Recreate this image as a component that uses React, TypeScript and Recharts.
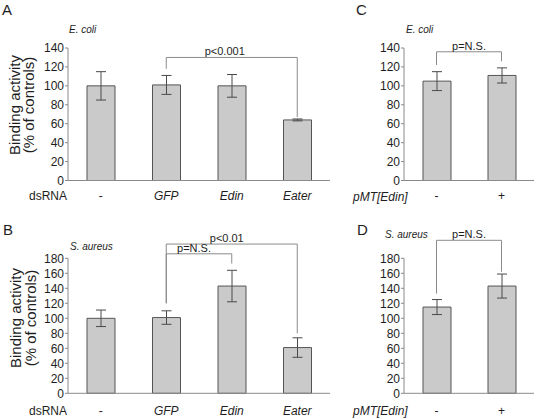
import React from 'react';
import { BarChart, Bar, XAxis, YAxis, ErrorBar, ReferenceLine } from 'recharts';

// ---- data ----
const dsrnaCategories = ['-', 'GFP', 'Edin', 'Eater'];
const pmtCategories = ['-', '+'];
const italicCategories = ['GFP', 'Edin', 'Eater'];

const ecoliDsrnaValues = [100, 101, 100, 64];
const ecoliDsrnaErrors = [15, 10, 12, 1];
const saureusDsrnaValues = [100, 101, 143, 61];
const saureusDsrnaErrors = [11, 9, 21, 13];
const ecoliPmtValues = [105, 111];
const ecoliPmtErrors = [10, 8];
const saureusPmtValues = [115, 143];
const saureusPmtErrors = [10, 16];

const ecoliTicks = [0, 20, 40, 60, 80, 100, 120, 140];
const saureusTicks = [0, 20, 40, 60, 80, 100, 120, 140, 160, 180];

// significance brackets: [from, to, level, fromEnd, toEnd, label]
const bracketsA = [{ from: 'GFP', to: 'Eater', y: 130, fromEnd: 118, toEnd: 67, label: 'p<0.001' }];
const bracketsB = [
  { from: 'GFP', to: 'Eater', y: 199, fromEnd: 120, toEnd: 80, label: 'p<0.01' },
  { from: 'GFP', to: 'Edin', y: 186, fromEnd: 120, toEnd: 173, label: 'p=N.S.' },
];
const bracketsC = [{ from: '-', to: '+', y: 136, fromEnd: 122, toEnd: 126, label: 'p=N.S.' }];
const bracketsD = [{ from: '-', to: '+', y: 204, fromEnd: 133, toEnd: 162, label: 'p=N.S.' }];

const build = (cats: string[], vals: number[], errs: number[]) =>
  cats.map((c, i) => ({ name: c, value: vals[i], err: errs[i] }));

const FONT = '"Liberation Sans", Arial, sans-serif';
const AXIS = '#8a8a8a';
const TXT = '#1e1e1e';

const makeTick = (offset: number) => (props: any) => {
  const { x, y, payload } = props;
  const v = payload.value as string;
  return (
    <text
      x={x}
      y={y + offset}
      textAnchor="middle"
      fontSize={12}
      fontFamily={FONT}
      fill={TXT}
      fontStyle={italicCategories.includes(v) ? 'italic' : 'normal'}
    >
      {v}
    </text>
  );
};

const renderBrackets = (list: any[], dx: number) => {
  const out: any[] = [];
  list.forEach((b, i) => {
    out.push(
      <ReferenceLine
        key={`h${i}`}
        segment={[{ x: b.from, y: b.y }, { x: b.to, y: b.y }]}
        stroke={AXIS}
        strokeWidth={1}
        ifOverflow="visible"
        label={{ value: b.label, position: 'top', offset: 2, fontSize: 11, fill: TXT, fontFamily: FONT, dx }}
      />
    );
    out.push(
      <ReferenceLine
        key={`l${i}`}
        segment={[{ x: b.from, y: b.y }, { x: b.from, y: b.fromEnd }]}
        stroke={AXIS}
        strokeWidth={1}
        ifOverflow="visible"
      />
    );
    out.push(
      <ReferenceLine
        key={`r${i}`}
        segment={[{ x: b.to, y: b.y }, { x: b.to, y: b.toEnd }]}
        stroke={AXIS}
        strokeWidth={1}
        ifOverflow="visible"
      />
    );
  });
  return out;
};

type PanelProps = {
  data: any[];
  width: number;
  height: number;
  top: number;
  right: number;
  axisHeight: number;
  yWidth: number;
  ticks: number[];
  max: number;
  tickOffset: number;
  brackets: any[];
  labelDx: number;
};

const Panel = (p: PanelProps) => (
  <BarChart
    width={p.width}
    height={p.height}
    data={p.data}
    margin={{ top: p.top, right: p.right, left: 0, bottom: 0 }}
    style={{ overflow: 'visible' }}
  >
    <XAxis
      dataKey="name"
      height={p.axisHeight}
      tickLine={false}
      tickSize={0}
      tickMargin={0}
      axisLine={{ stroke: AXIS }}
      tick={makeTick(p.tickOffset)}
      interval={0}
    />
    <YAxis
      width={p.yWidth}
      domain={[0, p.max]}
      ticks={p.ticks}
      interval={0}
      tickSize={3}
      tickMargin={1}
      axisLine={{ stroke: AXIS }}
      tickLine={{ stroke: AXIS }}
      tick={{ fontSize: 12, fill: TXT, fontFamily: FONT }}
    />
    <Bar dataKey="value" fill="#cacaca" stroke="#555555" strokeWidth={1} barSize={28} isAnimationActive={false}>
      <ErrorBar dataKey="err" width={5} stroke="#4a4a4a" strokeWidth={1} />
    </Bar>
    {renderBrackets(p.brackets, p.labelDx)}
  </BarChart>
);

const textStyle = { fontFamily: FONT, fill: TXT } as const;

export default function App() {
  return (
    <div
      style={{
        position: 'absolute',
        left: 0,
        top: 0,
        width: 537,
        height: 419,
        background: '#fff',
        overflow: 'hidden',
        fontFamily: FONT,
      }}
    >
      <div style={{ position: 'absolute', left: 0, top: 0 }}>
        <Panel
          data={build(dsrnaCategories, ecoliDsrnaValues, ecoliDsrnaErrors)}
          width={340}
          height={210}
          top={48}
          right={10}
          axisHeight={29.5}
          yWidth={68}
          ticks={ecoliTicks}
          max={140}
          tickOffset={19.5}
          brackets={bracketsA}
          labelDx={-7}
        />
      </div>
      <div style={{ position: 'absolute', left: 336, top: 0 }}>
        <Panel
          data={build(pmtCategories, ecoliPmtValues, ecoliPmtErrors)}
          width={200}
          height={210}
          top={48}
          right={2}
          axisHeight={29.5}
          yWidth={68}
          ticks={ecoliTicks}
          max={140}
          tickOffset={19.5}
          brackets={bracketsC}
          labelDx={0}
        />
      </div>
      <div style={{ position: 'absolute', left: 0, top: 210 }}>
        <Panel
          data={build(dsrnaCategories, saureusDsrnaValues, saureusDsrnaErrors)}
          width={340}
          height={209}
          top={48.3}
          right={10}
          axisHeight={25.7}
          yWidth={68}
          ticks={saureusTicks}
          max={180}
          tickOffset={21.7}
          brackets={bracketsB}
          labelDx={-5}
        />
      </div>
      <div style={{ position: 'absolute', left: 336, top: 210 }}>
        <Panel
          data={build(pmtCategories, saureusPmtValues, saureusPmtErrors)}
          width={200}
          height={209}
          top={48.3}
          right={2}
          axisHeight={25.7}
          yWidth={68}
          ticks={saureusTicks}
          max={180}
          tickOffset={21.7}
          brackets={bracketsD}
          labelDx={0}
        />
      </div>
      <svg
        width={537}
        height={419}
        style={{ position: 'absolute', left: 0, top: 0, pointerEvents: 'none' }}
      >
        {/* panel letters */}
        <text x={2} y={15} fontSize={15} {...textStyle}>A</text>
        <text x={356} y={15} fontSize={15} {...textStyle}>C</text>
        <text x={3} y={235} fontSize={15} {...textStyle}>B</text>
        <text x={357} y={235} fontSize={15} {...textStyle}>D</text>
        {/* species */}
        <text x={69} y={33} fontSize={10} fontStyle="italic" {...textStyle}>E. coli</text>
        <text x={406} y={33} fontSize={10} fontStyle="italic" {...textStyle}>E. coli</text>
        <text x={70} y={250} fontSize={10} fontStyle="italic" {...textStyle}>S. aureus</text>
        <text x={385} y={238} fontSize={10} fontStyle="italic" {...textStyle}>S. aureus</text>
        {/* row labels */}
        <text x={67} y={200} fontSize={12} textAnchor="end" {...textStyle}>dsRNA</text>
        <text x={67} y={415} fontSize={12} textAnchor="end" {...textStyle}>dsRNA</text>
        <text x={353} y={201} fontSize={12} fontStyle="italic" {...textStyle}>pMT[Edin]</text>
        <text x={353} y={415} fontSize={12} fontStyle="italic" {...textStyle}>pMT[Edin]</text>
        {/* y-axis titles */}
        <text transform="translate(14,105) rotate(-90)" fontSize={15} textAnchor="middle" dominantBaseline="central" {...textStyle}>Binding activity</text>
        <text transform="translate(28,105) rotate(-90)" fontSize={15} textAnchor="middle" dominantBaseline="central" {...textStyle}>(% of controls)</text>
        <text transform="translate(15,318) rotate(-90)" fontSize={15} textAnchor="middle" dominantBaseline="central" {...textStyle}>Binding activity</text>
        <text transform="translate(30,318) rotate(-90)" fontSize={15} textAnchor="middle" dominantBaseline="central" {...textStyle}>(% of controls)</text>
      </svg>
    </div>
  );
}
